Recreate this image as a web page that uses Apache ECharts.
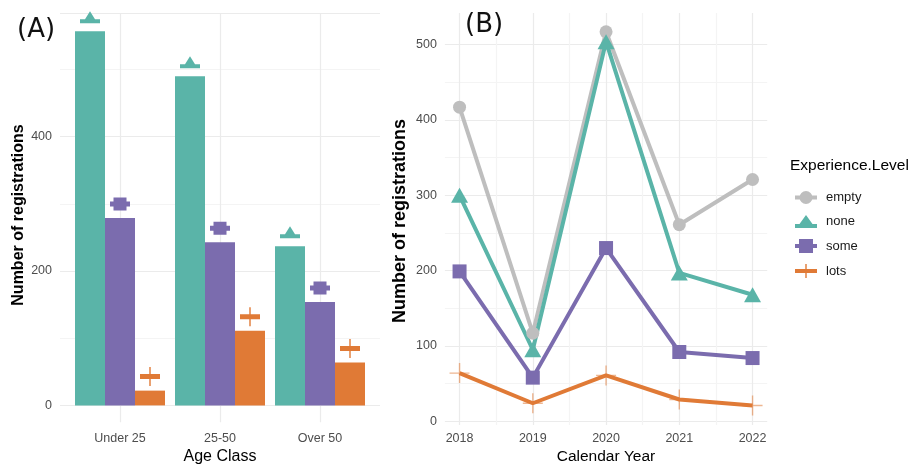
<!DOCTYPE html>
<html><head><meta charset="utf-8">
<script src="https://cdn.jsdelivr.net/npm/echarts@6/dist/echarts.min.js"></script>
<style>html,body{margin:0;padding:0;background:#fff}#c{width:910px;height:466px}</style>
</head><body><div id="c"></div>
<script>
// ---- data ----
const ageClasses = ['Under 25', '25-50', 'Over 50'];
const ageNone = [557, 490, 237];
const ageSome = [279, 243, 154];
const ageLots = [22, 111, 64];
const years = [2018, 2019, 2020, 2021, 2022];
const yearEmpty = [417, 117, 517, 261, 321];
const yearNone = [300, 95, 504, 197, 168];
const yearSome = [199, 58, 230, 92, 84];
const yearLots = [64, 24, 61, 29, 21];
const levels = ['empty', 'none', 'some', 'lots'];
const ageTicks = [0, 200, 400];
const yearTicks = [0, 100, 200, 300, 400, 500];

// ---- styles ----
const FONT = 'Liberation Sans, Arial, sans-serif';
const C = { empty: '#BEBEBE', none: '#5AB4A8', some: '#7B6CAE', lots: '#E07A36' };
const GRID_MAJ = '#EBEBEB', GRID_MIN = '#F4F4F4', NONE = 'rgba(0,0,0,0)';
const TICK_COL = '#4D4D4D';

const icons = {
  empty: 'path://M0,5 H22 V9 H0 Z M4.5,7 A6.5,6.5 0 0 1 17.5,7 A6.5,6.5 0 0 1 4.5,7 Z',
  none: 'path://M0,9 H4.5 L11,0 L17.5,9 H22 V13 H0 Z',
  some: 'path://M0,5 H4 V0 H18 V5 H22 V9 H18 V14 H4 V9 H0 Z',
  lots: 'path://M0,5 H22 V9 H0 Z M10.3,0 H11.7 V14 H10.3 Z'
};
const barMarks = {
  none: { path: 'path://M0,8 H5 L10,0 L15,8 H20 V12 H0 Z', size: [20, 12] },
  some: { path: 'path://M0,4 H3.5 V0 H16.5 V4 H20 V9 H16.5 V13 H3.5 V9 H0 Z', size: [20, 13] },
  lots: { path: 'path://M0,7 H20 V12 H0 Z M9.3,0 H10.7 V19 H9.3 Z', size: [20, 19] }
};

const ageSeriesData = { none: ageNone, some: ageSome, lots: ageLots };
const yearSeriesData = { empty: yearEmpty, none: yearNone, some: yearSome, lots: yearLots };

const isInt = v => Math.abs(v - Math.round(v)) < 1e-6;

const series = [];
['none', 'some', 'lots'].forEach(k => {
  const d = ageClasses.map((c, i) => [i + 1, ageSeriesData[k][i]]);
  series.push({
    type: 'bar', name: k, xAxisIndex: 0, yAxisIndex: 0, data: d,
    barGap: '0%', barCategoryGap: '10%', itemStyle: { color: C[k] }, z: 2, silent: true
  });
});
['none', 'some', 'lots'].forEach(k => {
  const d = ageClasses.map((c, i) => [i + 1, ageSeriesData[k][i]]);
  const m = barMarks[k];
  series.push({
    type: 'pictorialBar', name: k + '_mark', xAxisIndex: 0, yAxisIndex: 0, data: d,
    barGap: '0%', barCategoryGap: '10%',
    symbol: m.path, symbolSize: m.size, symbolPosition: 'end',
    symbolOffset: [0, -(14 + m.size[1] / 2)],
    itemStyle: { color: C[k] }, z: 3, silent: true
  });
});

const lineSymbols = {
  empty: { symbol: 'circle', size: 13 },
  none: { symbol: 'triangle', size: [17, 15] },
  some: { symbol: 'rect', size: 14 },
  lots: { symbol: 'path://M0,9.3 H20 V10.7 H0 Z M9.3,0 H10.7 V20 H9.3 Z', size: 20 }
};
levels.forEach(k => {
  const d = years.map((y, i) => [y, yearSeriesData[k][i]]);
  series.push({
    type: 'line', name: k, xAxisIndex: 1, yAxisIndex: 1, data: d,
    symbol: lineSymbols[k].symbol, symbolSize: lineSymbols[k].size, showSymbol: true,
    lineStyle: { color: C[k], width: 4 },
    itemStyle: { color: k === 'lots' ? 'rgba(224,122,54,0.55)' : C[k] },
    clip: false, z: 3, silent: true
  });
});

// split line colour cycles (only wanted positions drawn)
const xaColors = [NONE, NONE, NONE, GRID_MAJ, NONE];                                   // 0.4,0.6,0.8,1.0,1.2
const xbColors = [NONE, NONE, GRID_MAJ, NONE, NONE, NONE, NONE, GRID_MIN, NONE, NONE];  // 2017.8 ... 2018.7
const yaColors = [NONE, GRID_MAJ, NONE, NONE, NONE, GRID_MIN, NONE, NONE];              // -25,0,25,...,150
const ybColors = [NONE, GRID_MAJ, NONE, NONE, NONE, NONE, NONE, NONE, NONE, NONE,
                  NONE, GRID_MIN, NONE, NONE, NONE, NONE, NONE, NONE, NONE, NONE];       // -5,0,5,...,90

const option = {
  animation: false,
  backgroundColor: '#fff',
  textStyle: { fontFamily: FONT },
  grid: [
    { left: 60, width: 320, top: 13, height: 409.2 },
    { left: 444.9, width: 322.3, top: 13, height: 412.1 }
  ],
  xAxis: [
    {
      type: 'value', gridIndex: 0, min: 0.4, max: 3.6, interval: 0.2, position: 'bottom',
      axisLine: { show: false }, axisTick: { show: false },
      splitLine: { show: true, showMinLine: true, showMaxLine: true, lineStyle: { color: xaColors, width: 1.2 } },
      axisLabel: {
        margin: 10, color: TICK_COL, fontSize: 12.5, fontFamily: FONT,
        formatter: v => { const r = Math.round(v); return isInt(v) && ageClasses[r - 1] ? ageClasses[r - 1] : ''; }
      }
    },
    {
      type: 'value', gridIndex: 1, min: 2017.8, max: 2022.2, interval: 0.1, position: 'bottom',
      axisLine: { show: false }, axisTick: { show: false },
      splitLine: { show: true, showMinLine: true, showMaxLine: true, lineStyle: { color: xbColors, width: 1.2 } },
      axisLabel: {
        margin: 7, color: TICK_COL, fontSize: 12.5, fontFamily: FONT,
        formatter: v => { const r = Math.round(v); return isInt(v) && years.includes(r) ? String(r) : ''; }
      }
    }
  ],
  yAxis: [
    {
      type: 'value', gridIndex: 0, min: -25, max: 584, interval: 25,
      axisLine: { show: false }, axisTick: { show: false },
      splitLine: { show: true, showMinLine: true, showMaxLine: true, lineStyle: { color: yaColors, width: 1.2 } },
      axisLabel: { margin: 8, color: TICK_COL, fontSize: 12.5, fontFamily: FONT, formatter: v => ageTicks.includes(v) ? String(v) : '' }
    },
    {
      type: 'value', gridIndex: 1, min: -5, max: 542, interval: 5,
      axisLine: { show: false }, axisTick: { show: false },
      splitLine: { show: true, showMinLine: true, showMaxLine: true, lineStyle: { color: ybColors, width: 1.2 } },
      axisLabel: { margin: 8, color: TICK_COL, fontSize: 12.5, fontFamily: FONT, formatter: v => yearTicks.includes(v) ? String(v) : '' }
    }
  ],
  legend: {
    orient: 'vertical', left: 790, top: 186, itemWidth: 22, itemHeight: 14, itemGap: 11,
    selectedMode: false,
    textStyle: { fontSize: 13, color: '#1a1a1a', fontFamily: FONT, padding: [0, 0, 0, 4] },
    data: levels.map(k => ({ name: k, icon: icons[k], itemStyle: { color: C[k] } }))
  },
  graphic: [
    { type: 'text', left: 17, top: 17, style: { text: '(A)', font: '26px DejaVu Sans, sans-serif', fill: '#111' } },
    { type: 'text', left: 463, top: 12, z: 10,
      style: { text: '(B)', font: '26px DejaVu Sans, sans-serif', fill: '#111', backgroundColor: '#fff', padding: [0, 2, 0, 2] } },
    { type: 'text', x: 18.5, y: 215, rotation: Math.PI / 2,
      style: { text: 'Number of registrations', font: 'bold 16px ' + FONT, fill: '#000', align: 'center', verticalAlign: 'middle' } },
    { type: 'text', x: 400, y: 221, rotation: Math.PI / 2,
      style: { text: 'Number of registrations', font: 'bold 18px ' + FONT, fill: '#000', align: 'center', verticalAlign: 'middle' } },
    { type: 'text', x: 220, y: 457, style: { text: 'Age Class', font: '16px ' + FONT, fill: '#000', align: 'center', verticalAlign: 'middle' } },
    { type: 'text', x: 606, y: 457, style: { text: 'Calendar Year', font: '15.5px ' + FONT, fill: '#000', align: 'center', verticalAlign: 'middle' } },
    { type: 'text', x: 790, y: 166, style: { text: 'Experience.Level', font: '15.5px ' + FONT, fill: '#000', align: 'left', verticalAlign: 'middle' } }
  ],
  series: series
};
const chart = echarts.init(document.getElementById('c'), null, { renderer: 'canvas' });
chart.setOption(option);
</script>
</body></html>
